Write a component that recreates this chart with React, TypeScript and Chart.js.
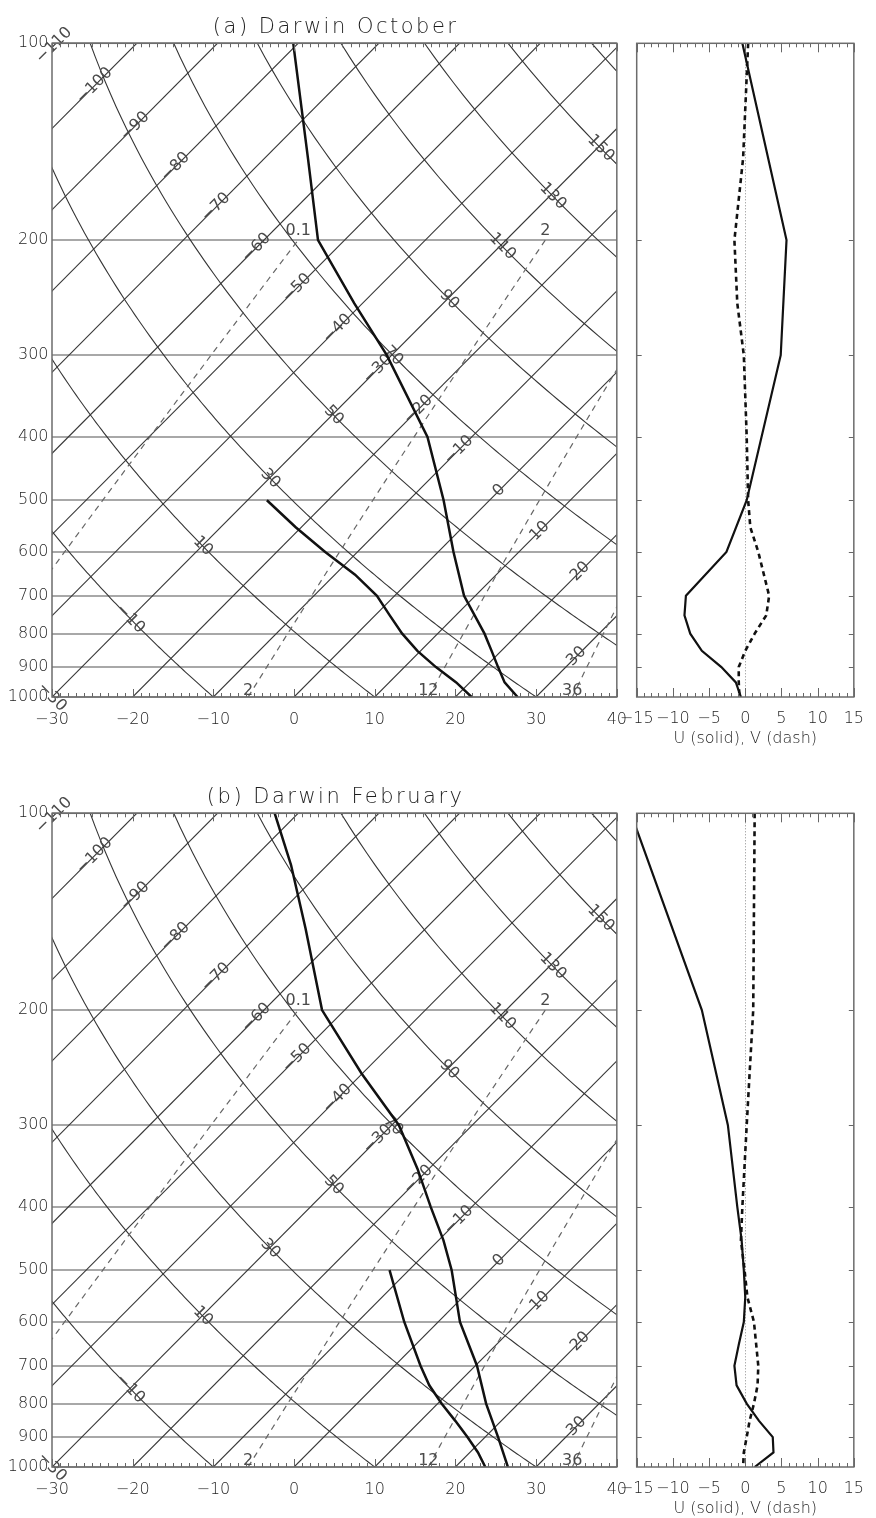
import React, { useEffect, useRef } from 'react';
import { Chart, registerables } from 'chart.js';

Chart.register(...registerables);

const FONT = '"DejaVu Sans", "Liberation Sans", sans-serif';
Chart.defaults.font.family = FONT;

// ---- diagram constants ----
const SKEW = 80.5; // degrees of skew per decade of pressure
const PRESSURE_LEVELS = [100, 200, 300, 400, 500, 600, 700, 800, 900, 1000];
const TEMP_TICKS = [-30, -20, -10, 0, 10, 20, 30, 40];
const WIND_TICKS = [-15, -10, -5, 0, 5, 10, 15];
const ISOTHERMS = [-110, -100, -90, -80, -70, -60, -50, -40, -30, -20, -10, 0, 10, 20, 30, 40];
const DRY_ADIABATS = [-30, -10, 10, 30, 50, 70, 90, 110, 130, 150, 170];
const MIXING_RATIOS = [0.1, 2.5, 12, 36];
const MIXING_LABELS = ['0.1', '2', '12', '36'];

// ---- (a) Darwin October ----
const OCT_T_P = [100, 150, 200, 250, 300, 400, 500, 600, 700, 800, 850, 900, 950, 1000];
const OCT_T = [-80.6, -64.6, -53.3, -41.0, -30.6, -15.5, -5.7, 1.9, 8.6, 15.8, 18.8, 21.6, 24.3, 27.7];
const OCT_TD_P = [500, 550, 600, 650, 700, 750, 800, 850, 900, 950, 1000];
const OCT_TD = [-27.6, -20.7, -14.0, -7.5, -2.2, 1.8, 5.6, 9.6, 13.9, 18.3, 22.0];
const OCT_U_P = [100, 200, 300, 500, 600, 700, 750, 800, 850, 900, 950, 1000];
const OCT_U = [-0.4, 5.7, 4.9, 0.2, -2.6, -8.2, -8.4, -7.6, -6.0, -3.3, -1.3, -0.6];
const OCT_V_P = [100, 150, 200, 250, 300, 400, 500, 550, 600, 700, 750, 800, 850, 900, 950, 1000];
const OCT_V = [0.4, -0.3, -1.5, -1.1, -0.2, 0.2, 0.4, 0.7, 1.8, 3.3, 2.9, 1.3, 0.0, -0.9, -0.9, -0.8];

// ---- (b) Darwin February ----
const FEB_T_P = [100, 120, 150, 200, 250, 300, 350, 400, 450, 500, 600, 700, 800, 900, 1000];
const FEB_T = [-82.9, -74.5, -64.9, -52.8, -40.1, -29.1, -21.4, -15.1, -9.4, -4.7, 2.7, 10.2, 16.0, 21.6, 26.5];
const FEB_TD_P = [500, 600, 700, 750, 800, 850, 900, 950, 1000];
const FEB_TD = [-12.4, -4.2, 3.2, 6.7, 10.5, 14.3, 17.8, 21.0, 23.7];
const FEB_U_P = [100, 200, 300, 400, 450, 500, 550, 600, 650, 700, 750, 800, 850, 900, 950, 1000];
const FEB_U = [-15.8, -6.0, -2.4, -1.1, -0.5, -0.2, 0.0, -0.2, -0.9, -1.5, -1.2, 0.2, 1.9, 3.8, 3.9, 1.3];
const FEB_V_P = [100, 200, 250, 300, 400, 450, 500, 550, 600, 700, 750, 800, 850, 900, 950, 1000];
const FEB_V = [1.3, 1.1, 0.6, 0.2, -0.4, -0.6, -0.1, 0.3, 1.2, 1.8, 1.7, 1.2, 0.6, 0.2, -0.2, -0.3];

// ---- layout ----
const PANEL_H = 770;
const PLOT_TOP = 43.3;
const AXIS_H = 73;
const SKEW_W = 640;
const SKEW_RIGHT = 621.7;
const WIND_X = 600;
const WIND_W = 276;
const WIND_LEFT = 636.7;
const WIND_RIGHT = 863.3;

const LABEL_COLOR = '#1e1e1e';
const TEXT_WEIGHT = '300';
const LINE_LABEL_COLOR = '#4a4a4a';

function skewX(t: number, p: number) {
  return t + SKEW * Math.log10(1000 / p);
}
function dryAdiabatT(theta: number, p: number) {
  return (theta + 273.15) * Math.pow(p / 1000, 0.2857) - 273.15;
}
function mixingDewpoint(w: number, p: number) {
  const e = (w * p) / (622 + w);
  const l = Math.log(e / 6.112);
  return (243.5 * l) / (17.67 - l);
}
function minus(s: string) {
  return s.replace('-', '\u2212');
}
function bisect(f: (lp: number) => number, lo: number, hi: number) {
  let flo = f(lo);
  for (let i = 0; i < 60; i++) {
    const mid = (lo + hi) / 2;
    const fm = f(mid);
    if (fm > 0 === flo > 0) {
      lo = mid;
      flo = fm;
    } else hi = mid;
  }
  return (lo + hi) / 2;
}
function drawRotated(ctx: CanvasRenderingContext2D, text: string, x: number, y: number, angle: number) {
  ctx.save();
  ctx.translate(x, y);
  ctx.rotate(angle);
  ctx.fillText(text, 0, 0);
  ctx.restore();
}

function makeSkewPlugin(title: string) {
  return {
    id: 'skewtBackground',
    beforeDatasetsDraw(chart: any) {
      const { ctx, chartArea: a, scales } = chart;
      const xs = scales.x;
      const ys = scales.y;
      const X = (T: number, p: number) => xs.getPixelForValue(skewX(T, p));
      const Y = (p: number) => ys.getPixelForValue(p);

      ctx.save();
      ctx.beginPath();
      ctx.rect(a.left, a.top, a.right - a.left, a.bottom - a.top);
      ctx.clip();
      ctx.strokeStyle = '#363636';
      ctx.lineWidth = 1.1;
      for (const T of ISOTHERMS) {
        ctx.beginPath();
        ctx.moveTo(X(T, 1000), Y(1000));
        ctx.lineTo(X(T, 100), Y(100));
        ctx.stroke();
      }
      for (const th of DRY_ADIABATS) {
        ctx.beginPath();
        for (let p = 1000; p >= 100; p -= 5) {
          const x = X(dryAdiabatT(th, p), p);
          const y = Y(p);
          if (p === 1000) ctx.moveTo(x, y);
          else ctx.lineTo(x, y);
        }
        ctx.stroke();
      }
      ctx.strokeStyle = '#666666';
      ctx.lineWidth = 1.2;
      ctx.setLineDash([6, 5]);
      for (const w of MIXING_RATIOS) {
        ctx.beginPath();
        for (let p = 1000; p >= 200; p -= 10) {
          const x = X(mixingDewpoint(w, p), p);
          const y = Y(p);
          if (p === 1000) ctx.moveTo(x, y);
          else ctx.lineTo(x, y);
        }
        ctx.stroke();
      }
      ctx.restore();

      // labels
      ctx.save();
      ctx.font = `16px ${FONT}`;
      ctx.fillStyle = LINE_LABEL_COLOR;
      ctx.textAlign = 'center';
      ctx.textBaseline = 'middle';

      const isoAngle = Math.atan2(Y(100) - Y(1000), X(0, 100) - X(0, 1000));
      for (const T of ISOTHERMS) {
        const f = (lp: number) => {
          const p = Math.pow(10, lp);
          return X(T, p) - a.left - (Y(p) - a.top);
        };
        if (f(2) < -2 || f(3) > 0) continue;
        const lp = bisect(f, 2, 3);
        const p = Math.pow(10, lp);
        let x = X(T, p);
        let y = Y(p);
        if (x > a.right + 1) {
          const xb = X(T, 1000);
          if (xb >= a.right - 2) continue;
          const pEdge = 1000 / Math.pow(10, (40 - T) / SKEW);
          x = (xb + a.right) / 2;
          y = (a.bottom + Y(pEdge)) / 2;
        }
        drawRotated(ctx, minus(String(T)), x, y, isoAngle);
      }

      for (const th of DRY_ADIABATS) {
        const g = (lp: number) => {
          const p = Math.pow(10, lp);
          return X(dryAdiabatT(th, p), p) - a.left - (a.bottom - Y(p));
        };
        let lp: number;
        if (Math.abs(g(3)) < 1) lp = 3;
        else if (g(3) > 0 && g(2) < 0) lp = bisect(g, 2, 3);
        else continue;
        const p = Math.pow(10, lp);
        const x = X(dryAdiabatT(th, p), p);
        const y = Y(p);
        if (x > a.right + 1 || y < a.top - 1) continue;
        const p1 = p / 1.03;
        const p2 = p * 1.03;
        const ang = Math.atan2(Y(p2) - Y(p1), X(dryAdiabatT(th, p2), p2) - X(dryAdiabatT(th, p1), p1));
        drawRotated(ctx, minus(String(th)), x, y, ang);
      }

      MIXING_RATIOS.forEach((w, i) => {
        const xb = X(mixingDewpoint(w, 1000), 1000);
        if (xb >= a.left && xb <= a.right) ctx.fillText(MIXING_LABELS[i], xb, a.bottom - 6);
        const xt = X(mixingDewpoint(w, 200), 200);
        if (xt >= a.left && xt <= a.right) ctx.fillText(MIXING_LABELS[i], xt, Y(200) - 9);
      });
      ctx.restore();
    },
    afterDraw(chart: any) {
      const { ctx, chartArea: a, scales } = chart;
      const xs = scales.x;
      ctx.save();
      ctx.strokeStyle = '#666666';
      ctx.lineWidth = 1;
      for (let v = TEMP_TICKS[0]; v <= TEMP_TICKS[TEMP_TICKS.length - 1]; v++) {
        const x = Math.round(xs.getPixelForValue(v)) + 0.5;
        const len = v % 10 === 0 ? 8 : 4;
        ctx.beginPath();
        ctx.moveTo(x, a.top);
        ctx.lineTo(x, a.top + len);
        ctx.moveTo(x, a.bottom);
        ctx.lineTo(x, a.bottom - len);
        ctx.stroke();
      }
      ctx.strokeStyle = '#6c6c6c';
      ctx.lineWidth = 1.5;
      ctx.strokeRect(a.left, a.top, a.right - a.left, a.bottom - a.top);

      ctx.fillStyle = LABEL_COLOR;
      ctx.font = `${TEXT_WEIGHT} 21px ${FONT}`;
      (ctx as any).letterSpacing = '2.5px';
      ctx.textAlign = 'center';
      ctx.textBaseline = 'middle';
      ctx.fillText(title, (a.left + a.right) / 2 + 1.25, 28);
      ctx.restore();
    },
  };
}

const windPlugin = {
  id: 'windFrame',
  beforeDatasetsDraw(chart: any) {
    const { ctx, chartArea: a, scales } = chart;
    const x0 = Math.round(scales.x.getPixelForValue(0)) + 0.5;
    ctx.save();
    ctx.strokeStyle = '#8a8a8a';
    ctx.lineWidth = 1;
    ctx.setLineDash([1, 2]);
    ctx.beginPath();
    ctx.moveTo(x0, a.top);
    ctx.lineTo(x0, a.bottom);
    ctx.stroke();
    ctx.restore();
  },
  afterDraw(chart: any) {
    const { ctx, chartArea: a, scales } = chart;
    const xs = scales.x;
    const ys = scales.y;
    ctx.save();
    ctx.strokeStyle = '#666666';
    ctx.lineWidth = 1;
    for (let v = WIND_TICKS[0]; v <= WIND_TICKS[WIND_TICKS.length - 1]; v++) {
      const x = Math.round(xs.getPixelForValue(v)) + 0.5;
      const len = v % 5 === 0 ? 9 : 4;
      ctx.beginPath();
      ctx.moveTo(x, a.top);
      ctx.lineTo(x, a.top + len);
      ctx.moveTo(x, a.bottom);
      ctx.lineTo(x, a.bottom - len);
      ctx.stroke();
    }
    for (const p of PRESSURE_LEVELS.slice(1, -1)) {
      const y = Math.round(ys.getPixelForValue(p)) + 0.5;
      ctx.beginPath();
      ctx.moveTo(a.left, y);
      ctx.lineTo(a.left + 5, y);
      ctx.moveTo(a.right, y);
      ctx.lineTo(a.right - 5, y);
      ctx.stroke();
    }
    ctx.strokeStyle = '#6c6c6c';
    ctx.lineWidth = 1.5;
    ctx.strokeRect(a.left, a.top, a.right - a.left, a.bottom - a.top);
    ctx.restore();
  },
};

function pressureScale(display: boolean, extra: any = {}) {
  return {
    type: 'logarithmic',
    position: 'left',
    display,
    min: 100,
    max: 1000,
    reverse: true,
    afterBuildTicks: (s: any) => {
      s.ticks = PRESSURE_LEVELS.map((v) => ({ value: v }));
    },
    ...extra,
  };
}

const TICK_FONT = { family: FONT, size: 16, weight: TEXT_WEIGHT };

function SkewPanel(props: { title: string; top: number; tP: number[]; t: number[]; tdP: number[]; td: number[] }) {
  const ref = useRef<HTMLCanvasElement | null>(null);
  useEffect(() => {
    const { title, tP, t, tdP, td } = props;
    const chart = new Chart(ref.current as HTMLCanvasElement, {
      type: 'scatter',
      data: {
        datasets: [
          {
            label: 'Temperature',
            data: tP.map((p, i) => ({ x: skewX(t[i], p), y: p })),
            showLine: true,
            borderColor: '#111111',
            borderWidth: 2.5,
            pointRadius: 0,
          },
          {
            label: 'Dewpoint',
            data: tdP.map((p, i) => ({ x: skewX(td[i], p), y: p })),
            showLine: true,
            borderColor: '#111111',
            borderWidth: 2.5,
            pointRadius: 0,
          },
        ],
      },
      options: {
        responsive: false,
        animation: false,
        devicePixelRatio: 1,
        events: [],
        layout: { padding: { left: 0, right: SKEW_W - SKEW_RIGHT, top: PLOT_TOP, bottom: 0 } },
        plugins: { legend: { display: false }, tooltip: { enabled: false } },
        scales: {
          x: {
            type: 'linear',
            position: 'bottom',
            min: TEMP_TICKS[0],
            max: TEMP_TICKS[TEMP_TICKS.length - 1],
            afterBuildTicks: (s: any) => {
              s.ticks = TEMP_TICKS.map((v) => ({ value: v }));
            },
            afterFit: (s: any) => {
              s.height = AXIS_H;
            },
            grid: { display: false, drawTicks: false },
            border: { display: false },
            ticks: {
              autoSkip: false,
              maxRotation: 0,
              padding: 13,
              color: LABEL_COLOR,
              font: TICK_FONT,
              callback: (v: any) => minus(String(v)),
            },
          },
          y: pressureScale(true, {
            afterFit: (s: any) => {
              s.width = 52;
            },
            grid: { color: '#a8a8a8', lineWidth: 2, drawTicks: false },
            border: { display: false },
            ticks: {
              autoSkip: false,
              padding: 3.5,
              color: LABEL_COLOR,
              font: TICK_FONT,
              callback: (v: any) => String(v),
            },
          }),
        } as any,
      },
      plugins: [makeSkewPlugin(title)],
    } as any);
    return () => chart.destroy();
  }, []);
  return (
    <canvas
      ref={ref}
      width={SKEW_W}
      height={PANEL_H}
      style={{ position: 'absolute', left: 0, top: props.top, width: SKEW_W, height: PANEL_H }}
    />
  );
}

function WindPanel(props: { top: number; uP: number[]; u: number[]; vP: number[]; v: number[] }) {
  const ref = useRef<HTMLCanvasElement | null>(null);
  useEffect(() => {
    const { uP, u, vP, v } = props;
    const chart = new Chart(ref.current as HTMLCanvasElement, {
      type: 'scatter',
      data: {
        datasets: [
          {
            label: 'U',
            data: uP.map((p, i) => ({ x: u[i], y: p })),
            showLine: true,
            borderColor: '#111111',
            borderWidth: 2.2,
            pointRadius: 0,
          },
          {
            label: 'V',
            data: vP.map((p, i) => ({ x: v[i], y: p })),
            showLine: true,
            borderColor: '#111111',
            borderWidth: 2.6,
            borderDash: [5, 4],
            pointRadius: 0,
          },
        ],
      },
      options: {
        responsive: false,
        animation: false,
        devicePixelRatio: 1,
        events: [],
        layout: {
          padding: { left: WIND_LEFT - WIND_X, right: WIND_X + WIND_W - WIND_RIGHT, top: PLOT_TOP, bottom: 0 },
        },
        plugins: { legend: { display: false }, tooltip: { enabled: false } },
        scales: {
          x: {
            type: 'linear',
            position: 'bottom',
            min: WIND_TICKS[0],
            max: WIND_TICKS[WIND_TICKS.length - 1],
            afterBuildTicks: (s: any) => {
              s.ticks = WIND_TICKS.map((val) => ({ value: val }));
            },
            afterFit: (s: any) => {
              s.height = AXIS_H;
            },
            grid: { display: false, drawTicks: false },
            border: { display: false },
            ticks: {
              autoSkip: false,
              maxRotation: 0,
              padding: 12,
              color: LABEL_COLOR,
              font: TICK_FONT,
              callback: (val: any) => minus(String(val)),
            },
            title: {
              display: true,
              text: 'U (solid), V (dash)',
              color: LABEL_COLOR,
              font: TICK_FONT,
              padding: { top: 0, bottom: 22 },
            },
          },
          y: pressureScale(false),
        } as any,
      },
      plugins: [windPlugin],
    } as any);
    return () => chart.destroy();
  }, []);
  return (
    <canvas
      ref={ref}
      width={WIND_W}
      height={PANEL_H}
      style={{ position: 'absolute', left: WIND_X, top: props.top, width: WIND_W, height: PANEL_H }}
    />
  );
}

export default function App() {
  return (
    <div
      style={{
        position: 'absolute',
        left: 0,
        top: 0,
        width: 876,
        height: 1518,
        overflow: 'hidden',
        background: '#ffffff',
      }}
    >
      <SkewPanel title="(a) Darwin October" top={0} tP={OCT_T_P} t={OCT_T} tdP={OCT_TD_P} td={OCT_TD} />
      <WindPanel top={0} uP={OCT_U_P} u={OCT_U} vP={OCT_V_P} v={OCT_V} />
      <SkewPanel title="(b) Darwin February" top={PANEL_H} tP={FEB_T_P} t={FEB_T} tdP={FEB_TD_P} td={FEB_TD} />
      <WindPanel top={PANEL_H} uP={FEB_U_P} u={FEB_U} vP={FEB_V_P} v={FEB_V} />
    </div>
  );
}
